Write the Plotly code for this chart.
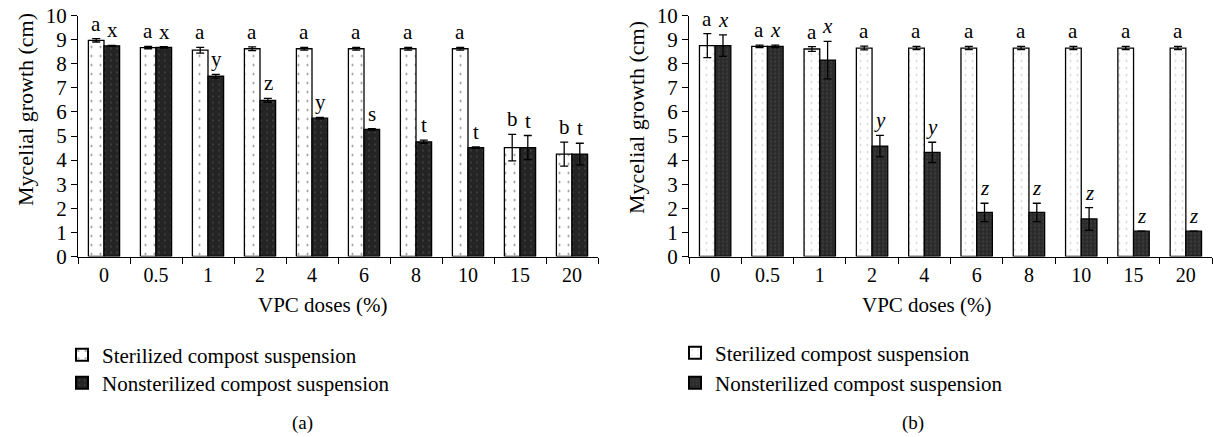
import plotly.graph_objects as go

doses = ["0", "0.5", "1", "2", "4", "6", "8", "10", "15", "20"]

# Panel (a)
a_ster = [8.97, 8.67, 8.56, 8.62, 8.62, 8.62, 8.62, 8.62, 4.52, 4.25]
a_ster_err = [0.07, 0.05, 0.12, 0.08, 0.06, 0.06, 0.06, 0.06, 0.55, 0.5]
a_non = [8.74, 8.68, 7.48, 6.48, 5.74, 5.27, 4.76, 4.52, 4.52, 4.25]
a_non_err = [0.02, 0.03, 0.08, 0.08, 0.03, 0.03, 0.07, 0.03, 0.5, 0.45]
a_ster_lbl = ["a", "a", "a", "a", "a", "a", "a", "a", "b", "b"]
a_non_lbl = ["x", "x", "y", "z", "y", "s", "t", "t", "t", "t"]

# Panel (b)
b_ster = [8.75, 8.72, 8.61, 8.65, 8.65, 8.65, 8.65, 8.65, 8.65, 8.65]
b_ster_err = [0.5, 0.05, 0.1, 0.08, 0.07, 0.07, 0.07, 0.07, 0.07, 0.07]
b_non = [8.75, 8.72, 8.15, 4.58, 4.32, 1.83, 1.83, 1.56, 1.05, 1.05]
b_non_err = [0.45, 0.05, 0.78, 0.45, 0.42, 0.38, 0.38, 0.47, 0.0, 0.0]
b_ster_lbl = ["a"] * 10
b_non_lbl = ["x", "x", "x", "y", "y", "z", "z", "z", "z", "z"]

series_names = ["Sterilized compost suspension", "Nonsterilized compost suspension"]

FONT = "Liberation Serif"
W, H = 1213, 437

fig = go.Figure()

def err(vals):
    return dict(type="data", array=vals, visible=True, color="black", thickness=1.3, width=4)

# panel a
fig.add_trace(go.Bar(
    x=doses, y=a_ster, name=series_names[0], xaxis="x", yaxis="y", legend="legend",
    error_y=err(a_ster_err),
    marker=dict(color="white", line=dict(color="black", width=1.3),
                pattern=dict(shape=".", fgcolor="black", bgcolor="white", size=9, solidity=0.04)),
))
fig.add_trace(go.Bar(
    x=doses, y=a_non, name=series_names[1], xaxis="x", yaxis="y", legend="legend2",
    error_y=err(a_non_err),
    marker=dict(color="#242424", line=dict(color="black", width=1.3),
                pattern=dict(shape=".", fgcolor="#8a8a8a", bgcolor="#242424", size=6, solidity=0.06)),
))
# panel b
fig.add_trace(go.Bar(
    x=doses, y=b_ster, name=series_names[0], xaxis="x2", yaxis="y2", legend="legend3",
    error_y=err(b_ster_err),
    marker=dict(color="white", line=dict(color="black", width=1.3),
                pattern=dict(shape=".", fgcolor="#9a9a9a", bgcolor="white", size=7, solidity=0.05)),
))
fig.add_trace(go.Bar(
    x=doses, y=b_non, name=series_names[1], xaxis="x2", yaxis="y2", legend="legend4",
    error_y=err(b_non_err),
    marker=dict(color="#2e2e2e", line=dict(color="black", width=1.3),
                pattern=dict(shape=".", fgcolor="#4a4a4a", bgcolor="#2a2a2a", size=4, solidity=0.3)),
))

ann = []
def letters(xref, yref, vals, errs, lbls, shift, italic=False):
    for i, (v, e, l) in enumerate(zip(vals, errs, lbls)):
        txt = f"<i>{l}</i>" if italic else l
        ann.append(dict(x=i, y=v + e, xref=xref, yref=yref, text=txt, showarrow=False,
                        xshift=shift, yshift=1, yanchor="bottom", xanchor="center",
                        font=dict(family=FONT, size=21, color="black")))

letters("x", "y", a_ster, a_ster_err, a_ster_lbl, -8)
letters("x", "y", a_non, a_non_err, a_non_lbl, 8)
letters("x2", "y2", b_ster, b_ster_err, b_ster_lbl, -8)
letters("x2", "y2", b_non, b_non_err, b_non_lbl, 8, italic=True)

def pt(xp, yp):
    return xp / W, 1 - yp / H

# axis titles and captions
for cx, ty, tx in [(25, 110, "Mycelial growth (cm)"), (636, 118, "Mycelial growth (cm)")]:
    x0, y0 = pt(cx, ty)
    ann.append(dict(x=x0, y=y0, xref="paper", yref="paper", text=tx, textangle=-90,
                    showarrow=False, xanchor="center", yanchor="middle",
                    font=dict(family=FONT, size=22, color="black")))
for cx, cy, tx in [(323, 305, "VPC doses (%)"), (927, 305, "VPC doses (%)"),
                   (302, 423, "(a)"), (913, 423, "(b)")]:
    x0, y0 = pt(cx, cy)
    ann.append(dict(x=x0, y=y0, xref="paper", yref="paper", text=tx,
                    showarrow=False, xanchor="center", yanchor="middle",
                    font=dict(family=FONT, size=21 if "VPC" in tx else 19, color="black")))

ydom = [1 - 256.5 / H, 1 - 15.5 / H]
xa = dict(type="category", tickson="boundaries", ticks="outside", ticklen=6, tickwidth=1.3,
          tickcolor="black", showline=True, linecolor="black", linewidth=1.3, showgrid=False,
          tickangle=0, range=[-0.5, 9.5], autorange=False,
          tickfont=dict(family=FONT, size=20, color="black"), automargin=False)
ya = dict(range=[0, 10], dtick=1, ticks="outside", ticklen=6, tickwidth=1.3, tickcolor="black",
          showline=True, linecolor="black", linewidth=1.3, showgrid=False, zeroline=False,
          tickfont=dict(family=FONT, size=21, color="black"), automargin=False, domain=ydom)

def leg(xp, yp):
    return dict(x=xp / W, y=1 - yp / H, xanchor="left", yanchor="middle",
                font=dict(family=FONT, size=21, color="black"),
                bgcolor="rgba(0,0,0,0)", itemsizing="constant")

fig.update_layout(
    width=W, height=H,
    margin=dict(l=0, r=0, t=0, b=0),
    paper_bgcolor="white", plot_bgcolor="white",
    barmode="group", bargap=0.4, bargroupgap=0,
    xaxis=dict(xa, domain=[78 / W, 598 / W], anchor="y"),
    yaxis=dict(ya, anchor="x"),
    xaxis2=dict(xa, domain=[689 / W, 1212 / W], anchor="y2"),
    yaxis2=dict(ya, anchor="x2"),
    annotations=ann,
    legend=leg(62, 355),
    legend2=leg(62, 383),
    legend3=leg(675, 353),
    legend4=leg(675, 383),
    showlegend=True,
)

fig.write_html("out.html", config={"displayModeBar": False},
               post_script="document.body.style.margin='0';document.body.style.padding='0';")
